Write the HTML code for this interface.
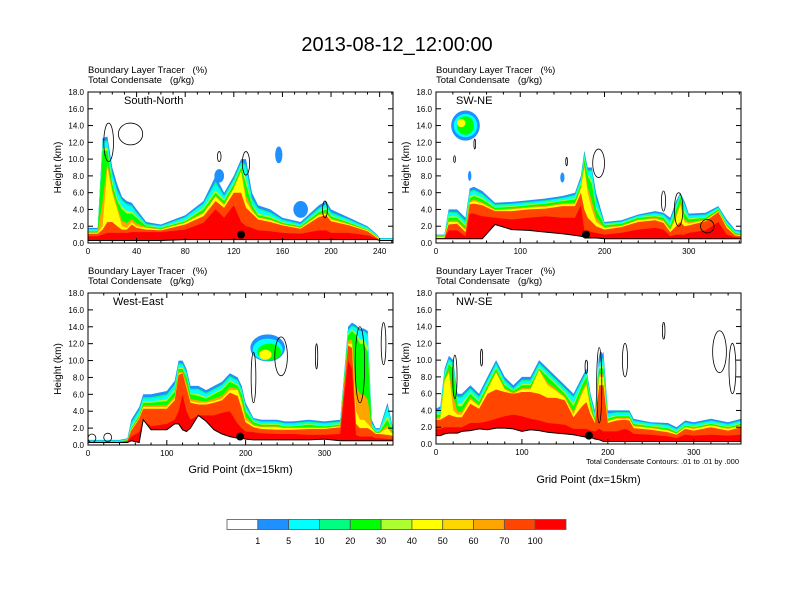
<!DOCTYPE html>
<html><head><meta charset="utf-8"><style>
body{margin:0;background:#fff}
svg{display:block;font-family:"Liberation Sans",sans-serif}
text{white-space:pre}
</style></head><body>
<svg id="fig" width="792" height="612" viewBox="0 0 792 612">
<text x="397" y="51" font-size="20" text-anchor="middle">2013-08-12_12:00:00</text>
<g id="panels"></g>
<g id="cbar"></g>
</svg>
<script>
const NS="http://www.w3.org/2000/svg";
const colors=["#1e90ff","#00ffff","#00ff00","#ffff00","#ff4500","#ff0000"];
const midColors=[null,"#00ff80","#adff2f","#ffa500",null,null];
const cbColors=["#ffffff","#1e90ff","#00ffff","#00ff80","#00ff00","#adff2f","#ffff00","#ffd700","#ffa500","#ff4500","#ff0000"];
const cbLabels=["1","5","10","20","30","40","50","60","70","100"];

// Panel 1: South-North
const p1X=[0,8,12,16,20,24,28,32,36,40,48,60,80,95,105,112,120,126,130,135,140,150,160,175,190,196,200,215,230,238,240,251];
const p1Ground=[0.3,0.3,0.3,0.3,0.3,0.3,0.3,0.3,0.3,0.3,0.3,0.3,0.4,0.4,0.4,0.4,0.4,0.4,0.4,0.4,0.4,0.4,0.4,0.4,0.4,0.4,0.4,0.4,0.4,0.4,0.3,0.3];
const p1Blue=[1.8,1.8,12.5,12.7,9,7,5.5,5,4.8,4,2.5,2.2,3.3,5,8,6,8,10,10,6,4.5,4,3,2.5,4.5,5,4,3,2,1,0.6,0.6];
const p1Cyan=[1.6,1.6,12,12,8,6,5,4.5,4.3,3.5,2.2,2,3,4.6,7,5.5,7.5,9.5,9,5,4,3.5,2.7,2.2,4,4.5,3.5,2.7,1.8,0.9,0.5,0.5];
const p1Green=[1.4,1.4,11,11,7,5,4,3.5,3.5,3,2,1.8,2.6,4,6,5,7,9,7,4.5,3.3,3,2.4,2,3.7,4,3.2,2.4,1.6,0.8,0.4,0.4];
const p1Yellow=[1.2,1.2,2,9,6,4,2,1.8,2.5,2,1.8,1.6,2.4,3.5,5.5,4.5,6.5,8.5,5,3.8,3,2.7,2.2,1.8,3.3,3.5,2.8,2.2,1.5,0.7,0.4,0.4];
const p1Orange=[1.1,1.1,1.6,2.5,2.5,2,1.6,1.6,2.2,1.8,1.6,1.5,2.2,3.2,5,4.2,6,6,4.2,3.5,2.8,2.5,2.1,1.7,3.1,3.3,2.6,2.1,1.4,0.6,0.3,0.3];
const p1Red=[0.8,0.8,1,1.2,1.2,1.2,1.2,1.2,1.3,1.3,1.3,1.3,1.6,2.4,4,3,4.5,2.5,2,1.8,1.5,1.4,1.2,1.1,1.5,1.5,1.2,1.2,0.9,0.5,0.3,0.3];
const p1Blobs=[[157,10.5,3,1,0],[108,8,4,0.8,0],[175,4,6,1,0]];
const p1Contours=[[17,12,4,2.3],[35,13,10,1.3],[130,9.5,3,1.4],[108,10.3,1.5,0.6],[195,4,2,1]];

// Panel 2: SW-NE
const p2X=[0,10,15,25,35,40,45,55,70,90,110,130,150,165,172,176,180,185,190,200,220,240,260,270,278,285,290,295,300,320,335,345,355,362];
const p2Ground=[0.5,0.5,0.5,0.5,0.5,0.5,0.5,0.5,2.2,1.6,1.5,1.3,1.1,0.9,0.8,0.7,0.6,0.6,0.6,0.5,0.5,0.5,0.5,0.5,0.5,0.5,0.5,0.5,0.5,0.5,0.5,0.5,0.5,0.5];
const p2Blue=[1,1,4,4,3,6.5,6.7,6.2,4.8,4.9,5.1,5.3,5.6,6,8,11,9,9,6,2.5,2.7,3.4,3.8,3.6,3,5,6,5,3.5,3.6,4.4,2.8,1.6,1.5];
const p2Cyan=[0.9,0.9,3.6,3.5,2.5,6,6.2,5.7,4.5,4.6,4.8,5,5.3,5.6,7.5,10.5,8.5,8.5,5,2.3,2.5,3.2,3.5,3.3,2.5,4.5,5.8,4.5,3.2,3.3,4.2,2.5,1.4,1.3];
const p2Green=[0.8,0.8,3,3,2,5.3,5.6,5.2,4.2,4.3,4.5,4.7,5,5.2,7,10,8,7,4,2.1,2.3,3,3.2,3,2,4,5.5,3.5,2.8,3,4,2.2,1.2,1.1];
const p2Yellow=[0.7,0.7,2.5,2.5,1.5,4.8,5,4.7,3.9,4,4.2,4.3,4.6,4.6,6.5,9,6,4,2.5,1.8,2,2.7,2.9,2.6,1.5,3,4.5,2.5,2.3,2.7,3.8,2,1,0.9];
const p2Orange=[0.6,0.6,2.2,2.3,1.3,4.6,4.7,4.5,3.8,3.8,4,4.1,4.4,4.4,6,4,3,2.5,2,1.6,1.9,2.5,2.7,2.4,1.3,2,2.5,2,2.1,2.6,3.7,1.8,0.9,0.8];
const p2Red=[0.5,0.5,1.5,1.5,0.8,3.5,3.5,3.2,3,2.8,3,3.2,3,3,4.5,1.5,1.5,1.3,1.2,1.0,1.2,1.6,1.8,1.6,0.8,1,1,1,1.2,1.5,2.5,1,0.7,0.6];
const p2Blobs=[[35,14,17,1.8,0],[35,14,14,1.4,1],[35,14,10,1.1,2],[30,14.3,5,0.5,3],[40,8,2,0.6,0],[150,7.8,2.5,0.6,0]];
const p2Contours=[[193,9.5,7,1.7],[46,11.8,1,0.6],[22,10,1,0.4],[155,9.7,1,0.5],[288,4,5,2],[270,5,2.5,1.2],[322,2,8,0.8]];

// Panel 3: West-East
const p3X=[0,10,40,50,55,65,70,80,100,110,115,120,125,130,140,150,160,170,180,190,195,200,210,220,240,250,260,280,300,320,330,335,340,345,350,355,360,365,370,380,387];
const p3Ground=[0.3,0.3,0.3,0.3,0.5,0.3,3,1.8,1.8,2.5,2.5,1.8,1.6,2,3.5,2.8,1.8,1.3,1.0,0.8,0.8,0.7,0.6,0.6,0.6,0.6,0.6,0.6,0.7,0.5,0.5,0.5,0.5,0.5,0.5,0.5,0.5,0.5,0.5,0.5,0.5];
const p3Blue=[0.6,0.6,0.6,0.8,3,4.5,6,6,6.4,7.6,10,10,9,7,7,6.5,7,7.5,8.5,8,7,5,3.2,3,3,2.8,2.8,3,2.8,3,14,14.5,14.2,13.8,13.8,13.5,3,2,2,5,2];
const p3Cyan=[0.5,0.5,0.5,0.7,2.5,4,5.5,5.5,5.8,7,9.5,9.5,8.5,6.5,6.5,6,6.5,7,8,7.5,6.5,4.5,3,2.7,2.7,2.5,2.5,2.7,2.5,2.7,13.5,14,13.8,13.4,13.4,13,2.5,1.8,1.8,4.5,1.8];
const p3Green=[0.4,0.4,0.4,0.6,2,3.5,5,5,5.2,6.3,9,9,8,6,5.8,5.5,6,6.5,7.5,7,6,4,2.7,2.4,2.4,2.2,2.2,2.4,2.2,2.4,13,13.5,13,12,12,11,2.2,1.6,1.6,3,1.5];
const p3Yellow=[0.4,0.4,0.4,0.5,1.8,3.2,4.5,4.5,4.5,5.5,8.5,8.5,7,5.2,5,5,5.2,5.5,6.5,6.5,5,3,2.3,2.1,2.1,2,2,2,2,2.2,12,12,4,3,3,2.5,2,1.4,1.4,2,1.2];
const p3Orange=[0.4,0.4,0.4,0.5,1.7,3.1,4.3,4.3,4.3,5.3,8.3,8.5,6.8,5,4.8,4.8,5,5.3,6.2,5.8,4.3,2.7,2.1,1.9,1.8,1.8,1.8,1.9,1.9,2.1,11.8,11.5,2.5,2,2,2,1.7,1.3,1.3,1.2,1.1];
const p3Red=[0.3,0.3,0.3,0.4,1,1.5,2,2.2,2.5,3,4,6,4,3,3.5,3.5,3.5,3.8,4,2.5,2,1.6,1.5,1.4,1.3,1.3,1.3,1.2,1.2,1.3,10,9,1.2,1,1,1,1,0.8,0.8,0.7,0.7];
const p3Blobs=[[228,11.5,22,1.6,0],[228,11.3,19,1.3,1],[230,11,15,1,2],[225,10.7,8,0.6,3]];
const p3Contours=[[245,10.5,8,2.3],[210,8,3,3],[290,10.5,1.5,1.5],[345,9.5,6,4.5],[375,12,3,2.5],[5,0.8,5,0.5],[25,0.9,5,0.5]];

// Panel 4: NW-SE
const p4X=[0,5,10,15,20,25,30,40,50,60,70,80,90,100,110,120,130,140,150,160,170,175,180,185,190,195,200,210,220,225,230,250,270,280,290,300,320,340,355];
const p4Ground=[1,1,1.2,1.3,1.3,1.3,1.5,1.6,1.8,1.7,1.9,1.9,1.8,1.5,1.7,1.6,1.4,1.3,1.2,1.1,0.9,0.8,0.8,0.6,0.5,0.3,0.3,0.3,0.3,0.3,0.3,0.3,0.3,0.3,0.3,0.3,0.3,0.3,0.3];
const p4Blue=[4.2,4.5,9,10.5,10,6,6,7,6,8,10,8,7,8,8,10,9,8,7,6,8,9,6,4,10,11,4,4,4,4,3,2.6,2.5,2,2.8,2.6,3,2.6,3];
const p4Cyan=[4,4,8.5,10,9.5,5.5,5.5,6.5,5.5,7.5,9.5,7.5,6.5,7.5,7.5,9.5,8.5,7.5,6.5,5.5,7.5,8.5,5.5,3.5,9.5,10,3.5,3.7,3.7,3.7,2.7,2.4,2.2,1.7,2.5,2.3,2.7,2.3,2.7];
const p4Green=[3.5,3.5,8,9.5,9,4.5,4.5,6,5,7,9,7,6.3,7,7,9,8,7,6,4.5,7,8,5,3,9,9,3,3.3,3.3,3.3,2.4,2.1,1.9,1.4,2.2,2,2.4,2,2.4];
const p4Yellow=[3,3,7.5,8.5,4,3.5,3.5,5.3,4.5,6.5,8.5,6.5,6,6.5,6.5,8.8,7,6.3,5.5,3.5,6,7,4,2.7,8,8,2.7,3,3,3,2.1,1.9,1.6,1.2,2,1.8,2.2,1.8,2.2];
const p4Orange=[2.9,2.9,3.2,3.5,3.3,3.2,3.2,4.8,4.2,6,6.5,6.2,6,6.2,6.2,6,5.5,5.5,5.2,3.2,4.5,5,3.5,2.5,7,7,2.5,2.8,2.9,2.8,1.9,1.7,1.4,1.1,1.8,1.6,2,1.6,2];
const p4Red=[1.8,1.8,2,2,2,2,2,2.5,2.5,2.7,3,3.3,3.5,3.3,3,2.8,2.5,2.4,2.3,1.8,1.8,1.8,1.6,1.5,1.8,1.5,1.5,1.5,1.8,1.6,1.2,1.1,0.9,0.7,1.1,1,1.1,1,1.1];
const p4Blobs=[[192,9.5,3,1.5,0]];
const p4Contours=[[53,10.3,1.3,1],[22,8,2.5,2.6],[190,7,3,4.5],[220,10,3,2],[265,13.5,1.5,1],[330,11,8,2.5],[345,9,4,3],[175,9.2,1.5,0.8]];

const panels=[
 {name:"south-north",label:"South-North",L:88,R:393,T:92,B:243,xmax:251,ticks:[0,40,80,120,160,200,240],minor:10,x:p1X,g:p1Ground,lv:[p1Blue,p1Cyan,p1Green,p1Yellow,p1Orange,p1Red],blobs:p1Blobs,cont:p1Contours,dot:126,xtitle:false},
 {name:"sw-ne",label:"SW-NE",L:436,R:741,T:92,B:243,xmax:362,ticks:[0,100,200,300],minor:20,x:p2X,g:p2Ground,lv:[p2Blue,p2Cyan,p2Green,p2Yellow,p2Orange,p2Red],blobs:p2Blobs,cont:p2Contours,dot:178,xtitle:false},
 {name:"west-east",label:"West-East",L:88,R:393,T:293,B:445,xmax:387,ticks:[0,100,200,300],minor:20,x:p3X,g:p3Ground,lv:[p3Blue,p3Cyan,p3Green,p3Yellow,p3Orange,p3Red],blobs:p3Blobs,cont:p3Contours,dot:193,xtitle:true},
 {name:"nw-se",label:"NW-SE",L:436,R:741,T:293,B:444,xmax:355,ticks:[0,100,200,300],minor:20,x:p4X,g:p4Ground,lv:[p4Blue,p4Cyan,p4Green,p4Yellow,p4Orange,p4Red],blobs:p4Blobs,cont:p4Contours,dot:178,xtitle:true,note:true}
];
function mk(tag,attrs,parent){const e=document.createElementNS(NS,tag);for(const k in attrs)e.setAttribute(k,attrs[k]);parent.appendChild(e);return e;}
const root=document.getElementById("panels");
panels.forEach((p,pi)=>{
  const g=mk("g",{},root);
  
  
  const sx=v=>p.L+(v/p.xmax)*(p.R-p.L);
  const sy=v=>p.B-(v/18)*(p.B-p.T);
  const clipId="clip"+pi;
  const cp=mk("clipPath",{id:clipId},g);
  mk("rect",{x:p.L,y:p.T,width:p.R-p.L,height:p.B-p.T},cp);
  const plot=mk("g",{"clip-path":"url(#"+clipId+")"},g);
  function band(arr,color){
    let d="";
    p.x.forEach((xv,i)=>{const t=Math.max(arr[i],p.g[i]);d+=(i?"L":"M")+sx(xv).toFixed(1)+","+sy(t).toFixed(1);});
    for(let i=p.x.length-1;i>=0;i--)d+="L"+sx(p.x[i]).toFixed(1)+","+sy(p.g[i]).toFixed(1);
    const path=mk("path",{d:d+"Z",fill:color,stroke:"none"},plot);
    
    
  }
  p.lv.forEach((arr,li)=>{
    band(arr,colors[li]);
    p.blobs.filter(b=>b[4]===li).forEach(b=>{
      const e=mk("ellipse",{cx:sx(b[0]),cy:sy(b[1]),rx:b[2]/p.xmax*(p.R-p.L),ry:b[3]/18*(p.B-p.T),fill:colors[li]},plot);
      
      
    });
    if(midColors[li+1]&&li+1<p.lv.length){
      const nxt=p.lv[li+1];
      band(arr.map((v,i)=>(v+nxt[i]*2)/3*1.0),midColors[li+1]);
    }
  });
  let gd="";p.x.forEach((xv,i)=>{gd+=(i?"L":"M")+sx(xv).toFixed(1)+","+sy(p.g[i]).toFixed(1);});
  const gl=mk("path",{d:gd,fill:"none",stroke:"#000","stroke-width":1},plot);
  
  
  p.cont.forEach(c=>{
    const e=mk("ellipse",{cx:sx(c[0]),cy:sy(c[1]),rx:c[2]/p.xmax*(p.R-p.L),ry:c[3]/18*(p.B-p.T),fill:"none",stroke:"#000","stroke-width":0.8},plot);
    
    
  });
  const dot=mk("circle",{cx:sx(p.dot),cy:sy(1),r:4,fill:"#000"},plot);
  
  
  const fr=mk("rect",{x:p.L,y:p.T,width:p.R-p.L,height:p.B-p.T,fill:"none",stroke:"#000","stroke-width":1},g);
  
  
  for(let v=0;v<=18;v+=2){
    const y=sy(v);
    mk("line",{x1:p.L,x2:p.L+5,y1:y,y2:y,stroke:"#000"},g);
    mk("line",{x1:p.R,x2:p.R-5,y1:y,y2:y,stroke:"#000"},g);
    const t=mk("text",{x:p.L-4,y:y+3,"font-size":8,"text-anchor":"end"},g);
    t.textContent=v.toFixed(1);
    
    
  }
  for(let v=0;v<=p.xmax;v+=p.minor){const x=sx(v);const maj=p.ticks.includes(v);const l=maj?5:2.5;
    mk("line",{x1:x,x2:x,y1:p.B,y2:p.B-l,stroke:"#000"},g);mk("line",{x1:x,x2:x,y1:p.T,y2:p.T+l,stroke:"#000"},g);}
  p.ticks.forEach(v=>{
    const t=mk("text",{x:sx(v),y:p.B+11,"font-size":8,"text-anchor":"middle"},g);
    t.textContent=v;
    
    
  });
  const lab=mk("text",{x:p.L+(pi===0?36:pi===2?25:20),y:p.T+12,"font-size":11},g);
  lab.textContent=p.label;
  
  
  const h1=mk("text",{x:p.L,y:p.T-19,"font-size":9.5},g);
  h1.textContent="Boundary Layer Tracer   (%)";
  
  
  const h2=mk("text",{x:p.L,y:p.T-9,"font-size":9.5},g);
  h2.textContent="Total Condensate   (g/kg)";
  
  
  const yt=mk("text",{x:0,y:0,"font-size":10,"text-anchor":"middle",transform:"translate("+(p.L-27)+","+((p.T+p.B)/2)+") rotate(-90)"},g);
  yt.textContent="Height (km)";
  
  
  if(p.xtitle){
    const xt=mk("text",{x:(p.L+p.R)/2,y:p.note?483:473,"font-size":11,"text-anchor":"middle"},g);
    xt.textContent="Grid Point (dx=15km)";
    
    
  }
  if(p.note){
    const nt=mk("text",{x:p.R-2,y:p.B+20,"font-size":7.5,"text-anchor":"end"},g);
    nt.textContent="Total Condensate Contours: .01 to .01 by .000";
    
    
  }
});
const cb=document.getElementById("cbar");
const cbL=227,cbW=339/11;
cbColors.forEach((c,i)=>{
  const r=mk("rect",{x:cbL+i*cbW,y:519.5,width:cbW,height:10,fill:c,stroke:"#555","stroke-width":0.8},cb);
  
  
});
cbLabels.forEach((l,i)=>{
  const t=mk("text",{x:cbL+(i+1)*cbW,y:544,"font-size":9,"text-anchor":"middle"},cb);
  t.textContent=l;
  
  
});
</script>
</body></html>
